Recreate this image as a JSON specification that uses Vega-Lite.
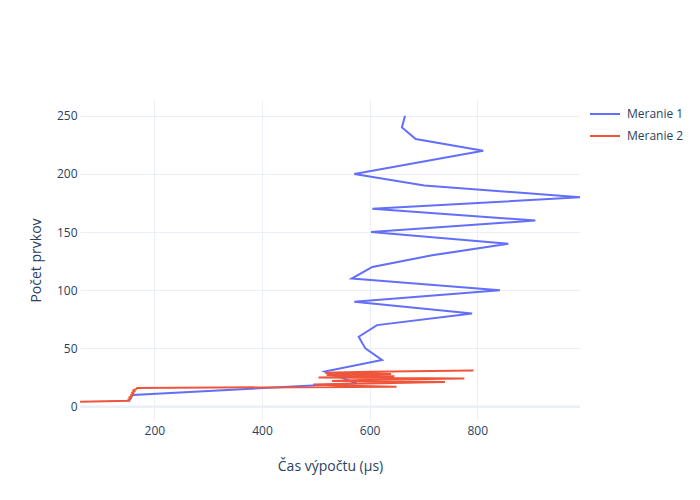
{
  "$schema": "https://vega.github.io/schema/vega-lite/v6.json",
  "autosize": {"type": "none"},
  "width": 500,
  "height": 320,
  "padding": {"left": 80, "top": 100, "right": 120, "bottom": 80},
  "background": "white",
  "config": {
    "font": "Open Sans",
    "view": {"stroke": null},
    "axis": {
      "domain": false,
      "ticks": false,
      "tickSize": 0,
      "grid": true,
      "gridColor": "#EBF0F8",
      "gridWidth": 1,
      "labelColor": "#2a3f5f",
      "labelFontSize": 12,
      "labelFont": "Open Sans",
      "titleColor": "#2a3f5f",
      "titleFontSize": 14,
      "titleFontWeight": "normal",
      "titleFont": "Open Sans"
    }
  },
  "datasets": {
    "zero": [{"y": 0}],
    "points": [
      {"seria": "Meranie 1", "pocet": 250, "cas": 665.7},
      {"seria": "Meranie 1", "pocet": 240, "cas": 660},
      {"seria": "Meranie 1", "pocet": 230, "cas": 685.6},
      {"seria": "Meranie 1", "pocet": 220, "cas": 811},
      {"seria": "Meranie 1", "pocet": 200, "cas": 571.5},
      {"seria": "Meranie 1", "pocet": 190, "cas": 701.6},
      {"seria": "Meranie 1", "pocet": 180, "cas": 990.8},
      {"seria": "Meranie 1", "pocet": 170, "cas": 605},
      {"seria": "Meranie 1", "pocet": 160, "cas": 907.8},
      {"seria": "Meranie 1", "pocet": 150, "cas": 602.6},
      {"seria": "Meranie 1", "pocet": 140, "cas": 857.6},
      {"seria": "Meranie 1", "pocet": 130, "cas": 716},
      {"seria": "Meranie 1", "pocet": 120, "cas": 605},
      {"seria": "Meranie 1", "pocet": 110, "cas": 566.7},
      {"seria": "Meranie 1", "pocet": 100, "cas": 842},
      {"seria": "Meranie 1", "pocet": 90, "cas": 571.5},
      {"seria": "Meranie 1", "pocet": 80, "cas": 790.3},
      {"seria": "Meranie 1", "pocet": 70, "cas": 613.7},
      {"seria": "Meranie 1", "pocet": 60, "cas": 579.7},
      {"seria": "Meranie 1", "pocet": 50, "cas": 592},
      {"seria": "Meranie 1", "pocet": 40, "cas": 623},
      {"seria": "Meranie 1", "pocet": 30, "cas": 516.5},
      {"seria": "Meranie 1", "pocet": 20, "cas": 576},
      {"seria": "Meranie 1", "pocet": 10, "cas": 160},
      {"seria": "Meranie 1", "pocet": 5, "cas": 153},
      {"seria": "Meranie 2", "pocet": 4, "cas": 62},
      {"seria": "Meranie 2", "pocet": 5, "cas": 153},
      {"seria": "Meranie 2", "pocet": 6, "cas": 152},
      {"seria": "Meranie 2", "pocet": 7, "cas": 156},
      {"seria": "Meranie 2", "pocet": 8, "cas": 154},
      {"seria": "Meranie 2", "pocet": 9, "cas": 158},
      {"seria": "Meranie 2", "pocet": 10, "cas": 157},
      {"seria": "Meranie 2", "pocet": 11, "cas": 161},
      {"seria": "Meranie 2", "pocet": 12, "cas": 159},
      {"seria": "Meranie 2", "pocet": 13, "cas": 163},
      {"seria": "Meranie 2", "pocet": 14, "cas": 161},
      {"seria": "Meranie 2", "pocet": 15, "cas": 166},
      {"seria": "Meranie 2", "pocet": 16, "cas": 168},
      {"seria": "Meranie 2", "pocet": 17, "cas": 650},
      {"seria": "Meranie 2", "pocet": 18, "cas": 540},
      {"seria": "Meranie 2", "pocet": 19, "cas": 495},
      {"seria": "Meranie 2", "pocet": 20, "cas": 620},
      {"seria": "Meranie 2", "pocet": 21, "cas": 740},
      {"seria": "Meranie 2", "pocet": 22, "cas": 530},
      {"seria": "Meranie 2", "pocet": 23, "cas": 600},
      {"seria": "Meranie 2", "pocet": 24, "cas": 776},
      {"seria": "Meranie 2", "pocet": 25, "cas": 505},
      {"seria": "Meranie 2", "pocet": 26, "cas": 646},
      {"seria": "Meranie 2", "pocet": 27, "cas": 520},
      {"seria": "Meranie 2", "pocet": 28, "cas": 640},
      {"seria": "Meranie 2", "pocet": 29, "cas": 517},
      {"seria": "Meranie 2", "pocet": 30, "cas": 600},
      {"seria": "Meranie 2", "pocet": 31, "cas": 793}
    ]
  },
  "layer": [
    {
      "data": {"name": "zero"},
      "mark": {"type": "rule", "color": "#EBF0F8", "strokeWidth": 2},
      "encoding": {
        "y": {"field": "y", "type": "quantitative", "scale": {"domain": [-11.6, 263.6], "nice": false, "zero": false}}
      }
    },
    {
      "data": {"name": "points"},
      "mark": {"type": "line", "strokeWidth": 2, "clip": true},
      "encoding": {
        "x": {
          "field": "cas",
          "type": "quantitative",
          "title": "Čas výpočtu (μs)",
          "scale": {"domain": [61.9, 990.8], "nice": false, "zero": false},
          "axis": {"values": [200, 400, 600, 800], "labelPadding": 5, "titlePadding": 23}
        },
        "y": {
          "field": "pocet",
          "type": "quantitative",
          "title": "Počet prvkov",
          "scale": {"domain": [-11.6, 263.6], "nice": false, "zero": false},
          "axis": {"values": [0, 50, 100, 150, 200, 250], "labelPadding": 3, "titlePadding": 13}
        },
        "color": {
          "field": "seria",
          "type": "nominal",
          "scale": {"domain": ["Meranie 1", "Meranie 2"], "range": ["#636efa", "#EF553B"]},
          "legend": {
            "title": null,
            "orient": "none",
            "legendX": 509,
            "legendY": -2,
            "symbolType": "stroke",
            "symbolSize": 900,
            "symbolStrokeWidth": 2,
            "labelFontSize": 12,
            "labelColor": "#2a3f5f",
            "labelFont": "Open Sans",
            "labelOffset": 6,
            "rowPadding": -4,
            "padding": 0
          }
        },
        "order": {"field": "pocet", "type": "quantitative"}
      }
    }
  ]
}
